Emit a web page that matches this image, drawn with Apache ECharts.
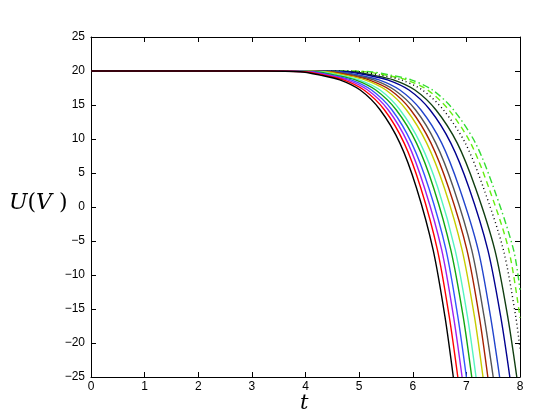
<!DOCTYPE html>
<html>
<head>
<meta charset="utf-8">
<script src="https://cdn.jsdelivr.net/npm/echarts@6/dist/echarts.min.js"></script>
<style>
html,body{margin:0;padding:0;background:#fff;}
#chart{width:554px;height:417px;}
</style>
</head>
<body>
<div id="chart"></div>
<script>
// voltage levels shared by the solid curves
var uLevels = [20, 20, 19.9, 19.4, 18.7, 17.2, 14.3, 9.4, 2.8, -6.3, -16.1, -25];
var uDotted = [20, 20, 19.9, 19.4, 18.7, 17.2, 14.3, 9.4, 2.8, -6.3, -16.1, -20.8];
var uDashed = [20, 20, 19.9, 19.4, 18.7, 17.2, 14.3, 9.4, 2.8, -6.3, -16.3];
var uDashDot = [20, 20, 19.9, 19.4, 18.7, 17.2, 14.3, 9.4, 2.8, -6.3, -12.2];

var tBlack = [0, 3.20, 3.90, 4.27, 4.64, 5.02, 5.39, 5.76, 6.07, 6.38, 6.60, 6.756];
var tRed = [0, 3.27, 3.97, 4.34, 4.71, 5.09, 5.47, 5.84, 6.15, 6.46, 6.68, 6.84];
var tPurple = [0, 3.34, 4.04, 4.41, 4.78, 5.16, 5.54, 5.91, 6.22, 6.54, 6.76, 6.92];
var tBlue = [0, 3.40, 4.10, 4.47, 4.85, 5.23, 5.61, 5.98, 6.30, 6.62, 6.84, 7.00];
var tGreen = [0, 3.48, 4.18, 4.55, 4.93, 5.31, 5.69, 6.07, 6.39, 6.71, 6.94, 7.10];
var tAqua = [0, 3.55, 4.25, 4.62, 5.00, 5.39, 5.76, 6.14, 6.47, 6.79, 7.02, 7.18];
var tYellow = [0, 3.66, 4.36, 4.73, 5.11, 5.50, 5.88, 6.26, 6.59, 6.92, 7.15, 7.31];
var tBrown = [0, 3.73, 4.43, 4.81, 5.18, 5.58, 5.96, 6.34, 6.67, 7.01, 7.24, 7.40];
var tGray = [0, 3.81, 4.51, 4.89, 5.27, 5.66, 6.05, 6.43, 6.76, 7.10, 7.33, 7.50];
var tBlue2 = [0, 3.91, 4.61, 4.99, 5.37, 5.76, 6.15, 6.54, 6.87, 7.22, 7.45, 7.62];
var tNavy = [0, 4.07, 4.77, 5.15, 5.53, 5.93, 6.32, 6.71, 7.05, 7.40, 7.64, 7.81];
var tDarkGreen = [0, 4.17, 4.87, 5.25, 5.64, 6.04, 6.43, 6.83, 7.17, 7.53, 7.77, 7.94];
var tDotted = [0, 4.31, 5.01, 5.39, 5.78, 6.18, 6.57, 6.98, 7.32, 7.69, 7.92, 8];
var tDashed = [0, 4.41, 5.11, 5.49, 5.88, 6.28, 6.67, 7.08, 7.42, 7.79, 8];
var tDashDot = [0, 4.50, 5.20, 5.58, 5.97, 6.37, 6.76, 7.17, 7.51, 7.88, 8];

var xTicks = [0, 1, 2, 3, 4, 5, 6, 7, 8];
var yTicks = [-25, -20, -15, -10, -5, 0, 5, 10, 15, 20, 25];

function pairs(t, u){
	var out = [];
	for (var i = 0; i < t.length; i++) out.push([t[i], u[i]]);
	return out;
}

function curve(t, u, color, type){
	return {
		type: 'line',
		data: pairs(t, u),
		smooth: 0.3,
		showSymbol: false,
		symbol: 'none',
		clip: true,
		lineStyle: {color: color, width: 1.4, type: type || 'solid'},
		z: 3
	};
}

var minus = function(v){ return String(v).replace('-', '\u2212'); };

var myChart = echarts.init(document.getElementById('chart'));
var option = {
	animation: false,
	backgroundColor: '#fff',
	grid: {left: 91, right: 34, top: 37, bottom: 40},
	xAxis: [
		{
			type: 'value', min: xTicks[0], max: xTicks[xTicks.length-1], interval: 1,
			axisLine: {show: true, onZero: false, lineStyle: {color: '#000', width: 1}},
			axisTick: {inside: true, length: 5, lineStyle: {color: '#000'}},
			axisLabel: {color: '#000', fontSize: 12, fontFamily: 'Liberation Sans', margin: 4},
			splitLine: {show: false}
		},
		{
			type: 'value', position: 'top', min: 0, max: 8, interval: 1,
			axisLine: {show: true, onZero: false, lineStyle: {color: '#000', width: 1}},
			axisTick: {inside: true, length: 5, lineStyle: {color: '#000'}},
			axisLabel: {show: false}, splitLine: {show: false}
		}
	],
	yAxis: [
		{
			type: 'value', min: yTicks[0], max: yTicks[yTicks.length-1], interval: 5,
			axisLine: {show: true, onZero: false, lineStyle: {color: '#000', width: 1}},
			axisTick: {inside: true, length: 5, lineStyle: {color: '#000'}},
			axisLabel: {color: '#000', fontSize: 12, fontFamily: 'Liberation Sans', margin: 6, formatter: minus},
			splitLine: {show: false}
		},
		{
			type: 'value', position: 'right', min: -25, max: 25, interval: 5,
			axisLine: {show: true, onZero: false, lineStyle: {color: '#000', width: 1}},
			axisTick: {inside: true, length: 5, lineStyle: {color: '#000'}},
			axisLabel: {show: false}, splitLine: {show: false}
		}
	],
	graphic: [
		{
			type: 'text', left: 9, top: 192,
			style: {
				text: '{i|U}{r|(}{i|V}{r| )}',
				rich: {
					i: {fontFamily: 'DejaVu Serif', fontStyle: 'italic', fontSize: 22, fill: '#000'},
					r: {fontFamily: 'DejaVu Serif', fontSize: 22, fill: '#000'}
				}
			}
		},
		{
			type: 'text', left: 300, top: 393,
			style: {text: 't', fontFamily: 'DejaVu Serif', fontStyle: 'italic', fontSize: 21, fill: '#000'}
		}
	],
	// drawn back to front so the first (black) curve ends up on top
	series: [
		curve(tDashDot, uDashDot, '#33dd33', [7, 3, 1.5, 3]),
		curve(tDashed, uDashed, '#66ee11', [6, 4]),
		curve(tDotted, uDotted, '#000000', [1, 3]),
		curve(tDarkGreen, uLevels, '#103e10'),
		curve(tNavy, uLevels, '#00008f'),
		curve(tBlue2, uLevels, '#2244cc'),
		curve(tGray, uLevels, '#555555'),
		curve(tBrown, uLevels, '#a82200'),
		curve(tYellow, uLevels, '#c8cc00'),
		curve(tAqua, uLevels, '#55f5c0'),
		curve(tGreen, uLevels, '#11a611'),
		curve(tBlue, uLevels, '#3355ff'),
		curve(tPurple, uLevels, '#a020f0'),
		curve(tRed, uLevels, '#ff0000'),
		curve(tBlack, uLevels, '#000000')
	]
};
myChart.setOption(option);
</script>
</body>
</html>
